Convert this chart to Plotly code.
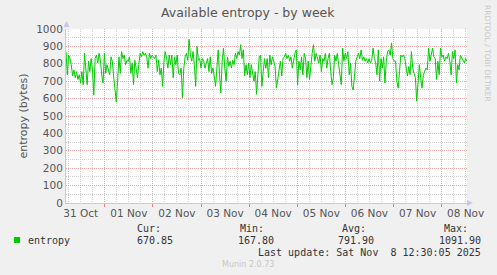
import pandas as pd
import plotly.graph_objects as go

# ---- data ----
start_time = "2025-10-31 04:40"
end_time = "2025-11-08 12:40"
entropy_values = [
    870,737,850,830,795,730,765,720,755,710,737,690,755,680,860,755,680,815,755,830,765,620,830,850,805,860,820,737,690,860,745,795,755,737,840,815,730,660,580,700,840,745,870,830,850,795,820,815,840,745,805,680,820,775,720,795,860,840,870,850,860,840,775,860,830,850,840,830,850,755,820,737,775,670,815,870,
    830,775,850,795,850,720,840,795,850,745,737,775,605,775,840,860,820,940,850,815,870,795,670,900,820,830,775,830,815,775,805,830,755,840,745,775,730,670,775,880,737,632,815,890,775,700,840,785,815,775,820,795,860,830,870,850,910,830,880,730,795,737,805,720,795,755,700,755,625,737,840,850,670,755,830,
    775,830,720,850,795,840,815,785,660,720,775,815,730,830,840,860,830,850,815,840,775,820,860,880,680,815,765,840,737,860,830,720,815,710,795,860,910,815,860,830,805,850,755,830,815,860,775,830,860,755,680,720,850,815,860,795,720,680,890,815,860,830,870,737,805,670,650,737,815,840,860,830,880,820,840,815,
    830,805,830,805,820,890,830,805,737,880,700,830,775,840,690,815,870,880,850,920,830,815,815,700,660,755,850,840,850,830,775,730,785,737,870,775,745,720,585,710,795,720,660,737,755,775,765,890,815,860,890,840,830,710,815,737,890,840,850,815,840,830,860,815,737,870,830,880,690,795,765,850,830,820,805,830,815,
]
label_days = ["2025-10-31", "2025-11-01", "2025-11-02", "2025-11-03", "2025-11-04",
              "2025-11-05", "2025-11-06", "2025-11-07", "2025-11-08"]
y_ticks = [0, 100, 200, 300, 400, 500, 600, 700, 800, 900, 1000]
series_name = "entropy"
stat_headers = ["Cur:", "Min:", "Avg:", "Max:"]
stat_values = ["670.85", "167.80", "791.90", "1091.90"]
last_update = "Last update: Sat Nov  8 12:30:05 2025"
title_text = "Available entropy - by week"
y_title = "entropy (bytes)"

times = pd.date_range(start_time, end_time, periods=len(entropy_values))
label_ts = [pd.Timestamp(d) + pd.Timedelta(hours=12) for d in label_days]
label_text = [t.strftime("%d %b") for t in label_ts]

# ---- layout geometry (pixels) ----
W_FIG, H_FIG = 497, 275
L, R, T, B = 66, 467, 29, 203
PW, PH = R - L, B - T

def px(x):
    return (x - L) / PW

def py(y):
    return (B - y) / PH

GREEN = "#00CC00"
MAJOR = "#eba5a5"
MINOR = "#d0d0d0"
AXIS = "#c6c6ee"
TXT = "#555555"
DOT = "1px,1px"

fig = go.Figure()
fig.add_trace(go.Scatter(x=times, y=entropy_values, mode="lines",
                         line=dict(color=GREEN, width=1), showlegend=False,
                         hoverinfo="skip"))
# invisible trace to anchor label axis
fig.add_trace(go.Scatter(x=[times[0]], y=[0], xaxis="x2", mode="markers",
                         marker=dict(opacity=0), showlegend=False, hoverinfo="skip"))

xr = [pd.Timestamp(start_time), pd.Timestamp(end_time)]

fig.update_layout(
    width=W_FIG, height=H_FIG,
    margin=dict(l=L, r=W_FIG - R, t=T, b=H_FIG - B, pad=0),
    paper_bgcolor="#F0F0F0", plot_bgcolor="white",
    font=dict(family="DejaVu Sans", size=10.5, color=TXT),
    xaxis=dict(type="date", range=xr, showticklabels=False,
               tick0="2025-11-01", dtick=86400000,
               showgrid=True, gridcolor=MAJOR, griddash=DOT, gridwidth=1,
               ticks="outside", ticklen=3, tickcolor="#e08080",
               showline=True, linecolor=AXIS, linewidth=1,
               minor=dict(dtick=6 * 3600000, tick0="2025-11-01",
                          showgrid=True, gridcolor=MINOR, griddash=DOT, gridwidth=1),
               zeroline=False, layer="below traces"),
    xaxis2=dict(type="date", range=xr, overlaying="x", anchor="y", side="bottom",
                tickvals=label_ts, ticktext=label_text, showgrid=False,
                ticks="", showline=False, zeroline=False, ticklabelstandoff=2,
                tickfont=dict(family="DejaVu Sans", size=10.5, color=TXT)),
    yaxis=dict(range=[0, 1000], tickvals=y_ticks,
               showgrid=True, gridcolor=MAJOR, griddash=DOT, gridwidth=1,
               minor=dict(dtick=50, showgrid=True, gridcolor=MINOR, griddash=DOT),
               showline=True, linecolor=AXIS, linewidth=1, zeroline=False,
               ticks="", tickfont=dict(size=10.5, color=TXT),
               title=dict(text=y_title, font=dict(size=11, color=TXT), standoff=6)),
    showlegend=False,
)

ann = []
ann.append(dict(text=title_text, x=px(248), y=py(13), xref="paper", yref="paper",
                showarrow=False, font=dict(family="DejaVu Sans", size=12.5, color=TXT),
                xanchor="center", yanchor="middle"))
ann.append(dict(text="RRDTOOL / TOBI OETIKER", x=px(488), y=py(53), xref="paper", yref="paper",
                showarrow=False, textangle=90, font=dict(family="DejaVu Sans", size=7.5, color="#c8c8c8"),
                xanchor="center", yanchor="middle"))

mono = dict(family="DejaVu Sans Mono", size=10, color="#333333")
ann.append(dict(text=series_name, x=px(26), y=py(240), xref="paper", yref="paper",
                showarrow=False, font=mono, xanchor="left", yanchor="middle"))
header_right = [163, 266, 368, 470]
value_right = [175, 276, 376, 483]
for h, v, hx, vx in zip(stat_headers, stat_values, header_right, value_right):
    ann.append(dict(text=h, x=px(hx), y=py(228), xref="paper", yref="paper",
                    showarrow=False, font=mono, xanchor="right", yanchor="middle"))
    ann.append(dict(text=v, x=px(vx), y=py(240), xref="paper", yref="paper",
                    showarrow=False, font=mono, xanchor="right", yanchor="middle"))
ann.append(dict(text=last_update.replace("  ", "&nbsp; "), x=px(483), y=py(252), xref="paper", yref="paper",
                showarrow=False, font=mono, xanchor="right", yanchor="middle"))
ann.append(dict(text="Munin 2.0.73", x=px(248), y=py(264), xref="paper", yref="paper",
                showarrow=False, font=dict(family="DejaVu Sans", size=8, color="#c8c8c8"),
                xanchor="center", yanchor="middle"))
fig.update_layout(annotations=ann)

# legend colour box
fig.add_shape(type="rect", xref="paper", yref="paper",
              x0=px(14), x1=px(20), y0=py(243), y1=py(237),
              fillcolor=GREEN, line=dict(width=0))
# axis arrowheads
fig.add_shape(type="path", xref="paper", yref="paper",
              path=f"M {px(63.5)} {py(27)} L {px(69.5)} {py(27)} L {px(66.5)} {py(21)} Z",
              fillcolor=AXIS, line=dict(width=0))
fig.add_shape(type="path", xref="paper", yref="paper",
              path=f"M {px(467)} {py(200)} L {px(467)} {py(206)} L {px(473)} {py(203)} Z",
              fillcolor=AXIS, line=dict(width=0))

fig.write_html("out.html")
